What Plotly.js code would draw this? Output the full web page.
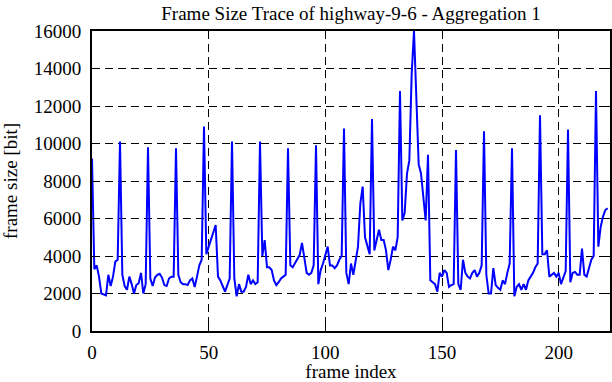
<!DOCTYPE html>
<html>
<head>
<meta charset="utf-8">
<script src="https://cdn.plot.ly/plotly-3.0.1.min.js"></script>
<style>
  html, body { margin: 0; padding: 0; background: #ffffff; }
  #chart { width: 612px; height: 382px; }
  #chart .xtick text, #chart .ytick text, #chart text {
    font-family: "Liberation Serif", "Times New Roman", Times, serif !important;
  }
</style>
</head>
<body>
<div id="chart"></div>
<script>
// Frame sizes in bit (frame index 0..221)
const frameSizes = [
  9200, 3300, 3500, 2900, 2000, 1950, 1900, 3000, 2400, 2900, 3700, 3800,
  10100, 3000, 2400, 2200, 2900, 2500, 2000, 2450, 2550, 3100, 2000, 2500,
  9800, 2800, 2400, 2850, 3000, 3050, 2850, 2450, 2400, 2800, 2900, 2900,
  9750, 3000, 2600, 2500, 2500, 2450, 2700, 2800, 2350, 2900, 3500, 3800,
  10900, 4100, 4500, 4850, 5200, 5650, 2900, 2700, 2400, 2100, 2450, 2800,
  10100, 2800, 1850, 2500, 2100, 2100, 2350, 3000, 2500, 2700, 2500, 2600,
  10100, 4000, 4850, 3400, 3400, 3250, 2700, 2450, 2600, 2800, 2900, 3000,
  9750, 3500, 3400, 3600, 3800, 4050, 4700, 3800, 3100, 3000, 3100, 3500,
  9900, 2500, 3250, 3600, 4000, 4500, 3500, 3500, 3350, 3500, 3800, 4000,
  10800, 3100, 2500, 3600, 3000, 3800, 4500, 6800, 7700, 5000, 4500, 4100,
  11300, 4300, 4850, 5400, 4850, 4850, 4300, 3250, 3800, 4500, 4300, 5000,
  12800, 5900, 6300, 8400, 9100, 13700, 16000, 12500, 8900, 8400, 7000, 5900,
  9400, 2700, 2600, 2500, 2100, 3100, 2900, 3250, 3100, 2350, 2450, 2500,
  9650, 2500, 2200, 3800, 3100, 2900, 2800, 3100, 3250, 2900, 3100, 3500,
  10650, 3000, 2000, 2000, 3350, 2450, 2300, 2200, 2700, 2500, 3100, 3600,
  9750, 1850, 2350, 2500, 2200, 2500, 2200, 2700, 2900, 3100, 3400, 3600,
  11500, 4100, 4100, 4300, 2900, 3000, 3100, 2900, 3100, 2500, 2900, 3200,
  10750, 2600, 3100, 3150, 3000, 3000, 4400, 3000, 2900, 3350, 3800, 4000,
  12800, 4500, 5550, 6100, 6450, 6550
];
const frameIndex = frameSizes.map((_, i) => i);

const xTickVals = [0, 50, 100, 150, 200];
const yTickVals = [0, 2000, 4000, 6000, 8000, 10000, 12000, 14000, 16000];

const chartTitle = 'Frame Size Trace of highway-9-6 - Aggregation 1';
const xLabel = 'frame index';
const yLabel = 'frame size [bit]';

const SERIF = '"Liberation Serif", "Times New Roman", Times, serif';
function serifFont() { return { family: SERIF, size: 19, color: '#000000' }; }

function axisBase() {
  return {
    ticks: 'inside',
    ticklen: 7,
    tickwidth: 1,
    tickcolor: '#000000',
    showline: true,
    linecolor: '#000000',
    linewidth: 2,
    mirror: 'ticks',
    showgrid: true,
    gridcolor: '#000000',
    gridwidth: 1,
    griddash: '8px,5px',
    zeroline: false,
    tickfont: serifFont(),
    fixedrange: true
  };
}

const trace = {
  x: frameIndex,
  y: frameSizes,
  type: 'scatter',
  mode: 'lines',
  line: { color: '#0000ff', width: 2 },
  hoverinfo: 'skip'
};

const layout = {
  width: 612,
  height: 382,
  font: serifFont(),
  margin: { l: 92, r: 2, t: 31, b: 51, pad: 0 },
  paper_bgcolor: '#ffffff',
  plot_bgcolor: '#ffffff',
  showlegend: false,
  title: {
    text: chartTitle,
    font: serifFont(),
    x: 0.5,
    xref: 'paper',
    xanchor: 'center',
    y: 0.965,
    yref: 'container',
    yanchor: 'middle'
  },
  xaxis: Object.assign(axisBase(), {
    range: [0, 222],
    tickvals: xTickVals,
    ticktext: xTickVals.map(String),
    ticklabelstandoff: 3,
    title: { text: xLabel, font: serifFont(), standoff: 5 }
  }),
  yaxis: Object.assign(axisBase(), {
    range: [0, 16000],
    tickvals: yTickVals,
    ticktext: yTickVals.map(String),
    ticklabelstandoff: 5,
    title: { text: yLabel, font: serifFont(), standoff: 12 }
  })
};

Plotly.newPlot('chart', [trace], layout, { staticPlot: true, displayModeBar: false });
</script>
</body>
</html>
